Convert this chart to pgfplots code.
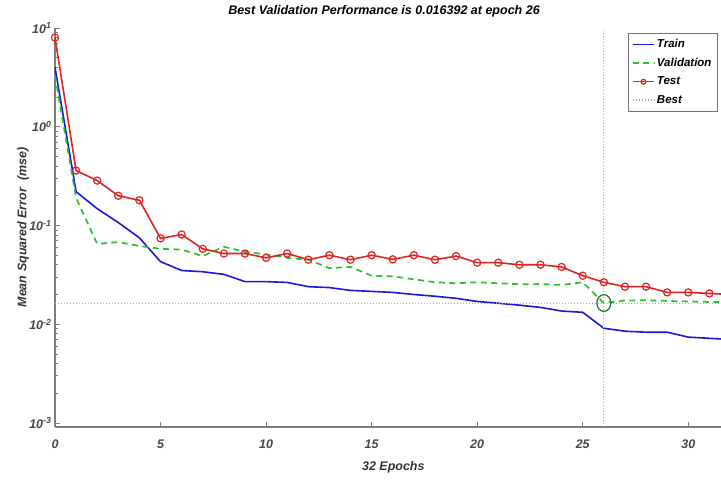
\documentclass[border=0pt]{standalone}
\usepackage{pgfplots}
\pgfplotsset{compat=1.18}
\usepackage{fontspec}
\setmainfont{Liberation Sans}

\definecolor{trainblue}{RGB}{25,25,215}
\definecolor{valgreen}{RGB}{45,190,45}
\definecolor{testred}{RGB}{225,35,35}
\definecolor{bestline}{RGB}{150,190,150}
\definecolor{circgreen}{RGB}{25,120,45}
\definecolor{axgray}{RGB}{125,125,125}

% performance data
\pgfplotstableread{
ep   train   val      test
0    4.0     3.3      8.0
1    0.22    0.19     0.36
2    0.148   0.065    0.285
3    0.107   0.068    0.20
4    0.075   0.062    0.18
5    0.043   0.058    0.074
6    0.035   0.057    0.081
7    0.034   0.049    0.058
8    0.032   0.061    0.052
9    0.027   0.054    0.052
10   0.027   0.051    0.047
11   0.0265  0.047    0.052
12   0.024   0.045    0.045
13   0.0235  0.037    0.050
14   0.022   0.038    0.045
15   0.0215  0.031    0.050
16   0.021   0.0305   0.0454
17   0.020   0.0285   0.050
18   0.0192  0.0266   0.045
19   0.0183  0.026    0.049
20   0.017   0.0266   0.042
21   0.0163  0.026    0.042
22   0.0156  0.0254   0.040
23   0.0148  0.0255   0.040
24   0.0136  0.025    0.038
25   0.0132  0.0266   0.031
26   0.0091  0.016392 0.0266
27   0.0085  0.0174   0.024
28   0.0083  0.0175   0.024
29   0.0083  0.0172   0.021
30   0.0074  0.017    0.021
31   0.0072  0.0168   0.0205
32   0.0070  0.0168   0.020
}\perf

\begin{document}
\begin{tikzpicture}[font=\bfseries\itshape]
\begin{axis}[
  name=ax,
  scale only axis,
  width=666pt, height=399pt,
  ymode=log,
  xmin=0, xmax=31.55,
  ymin=0.00091, ymax=10,
  axis x line*=bottom, axis y line*=left,
  axis line style={axgray, line width=1.2pt},
  tick align=inside,
  major tick length=5pt, minor tick length=3pt,
  tick style={axgray, line width=0.8pt},
  xtick={0,5,10,15,20,25,30},
  xticklabels={0,5,10,15,20,25,30},
  ytick={0.001,0.01,0.1,1,10},
  yticklabels={10\textsuperscript{-3},10\textsuperscript{-2},10\textsuperscript{-1},10\textsuperscript{0},10\textsuperscript{1}},
  minor ytick={0.002,0.003,0.004,0.005,0.006,0.007,0.008,0.009,
               0.02,0.03,0.04,0.05,0.06,0.07,0.08,0.09,
               0.2,0.3,0.4,0.5,0.6,0.7,0.8,0.9,
               2,3,4,5,6,7,8,9},
  ticklabel style={font=\bfseries\itshape\fontsize{12.5}{14}\selectfont, text=black!72},
  xticklabel style={yshift=-9pt},
  title={Best Validation Performance is 0.016392 at epoch 26},
  title style={at={(axis description cs:0.494,1)}, anchor=south, yshift=1pt,
               font=\bfseries\itshape\fontsize{12.5}{14}\selectfont},
  xlabel={32 Epochs},
  xlabel style={at={(axis description cs:0.508,-0.1)}, anchor=center,
                font=\bfseries\itshape\fontsize{12.5}{14}\selectfont, text=black!80},
  ylabel={Mean Squared Error\ \ (mse)},
  ylabel style={at={(axis description cs:-0.048,0.5)}, anchor=center,
                font=\bfseries\itshape\fontsize{12.5}{14}\selectfont, text=black!80},
  legend style={at={(axis description cs:0.86,0.987)}, anchor=north west,
                font=\bfseries\itshape\fontsize{11.5}{13}\selectfont,
                draw=black!55, fill=white, row sep=5pt, inner sep=4pt},
  legend cell align=left,
  legend image code/.code={
    \draw[line width=1.4pt, mark repeat=2, mark phase=2, mark size=2.4pt]
      plot coordinates {(0cm,0cm) (0.38cm,0cm) (0.76cm,0cm)};},
]
\addplot[trainblue, line width=1.6pt] table[x=ep, y=train] {\perf};
\addlegendentry{Train}
\addplot[valgreen, line width=1.7pt, dash pattern=on 6pt off 4.5pt] table[x=ep, y=val] {\perf};
\addlegendentry{Validation}
\addplot[testred, line width=1.6pt, mark=o, mark size=3.6pt,
         mark options={solid, line width=1.2pt}] table[x=ep, y=test] {\perf};
\addlegendentry{Test}
\addplot[bestline, line width=1pt, dotted] coordinates {(0,0.016392) (32,0.016392)};
\addlegendentry{Best}
\addplot[bestline, line width=1pt, dotted, forget plot] coordinates {(26,0.00091) (26,10)};
\addplot[only marks, mark=o, mark size=7pt, circgreen,
         mark options={line width=1.2pt, yscale=1.2}, forget plot]
  coordinates {(26,0.016392)};
\end{axis}
\pgfresetboundingbox
\path ([xshift=-55pt,yshift=-55pt]ax.south west) rectangle ([yshift=28pt]ax.north east);
\end{tikzpicture}
\end{document}
